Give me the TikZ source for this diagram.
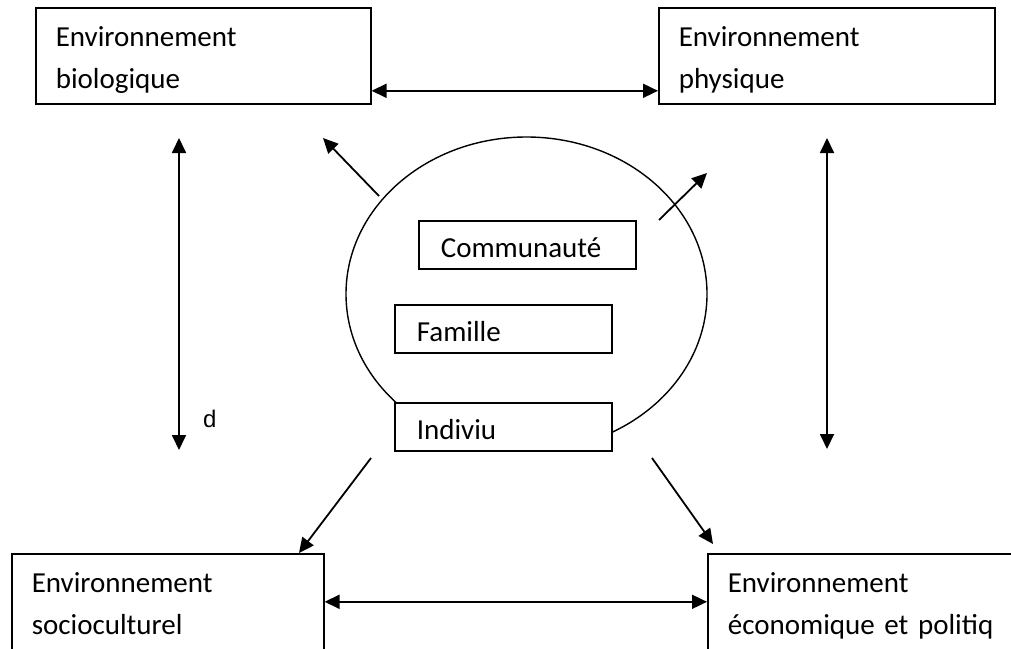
\documentclass[tikz,border=0pt]{standalone}
\usepackage{fontspec}
\setmainfont{Carlito}
\newfontfamily\arialfont{Liberation Sans}
\usetikzlibrary{arrows.meta,shapes.geometric}

\newcommand\twolines[2]{\rule{0pt}{30pt}#1\\#2\rule[-6pt]{0pt}{6pt}}

\begin{document}
\begin{tikzpicture}[x=1pt,y=-1pt,
    envbox/.style={draw, line width=1.6pt, anchor=north west, align=left,
      font=\fontsize{29}{42}\selectfont, inner xsep=20pt, inner ysep=0pt,
      minimum height=96pt},
    levelbox/.style={draw, fill=white, line width=1.6pt, anchor=north west,
      align=left, font=\fontsize{29}{35}\selectfont, inner xsep=22pt,
      inner ysep=0pt, text width=173pt, minimum height=48pt,
      text height=26pt, text depth=0pt},
    link/.style={line width=1.8pt, -{Triangle[length=15pt,width=14pt]}},
    biglink/.style={line width=1.8pt,
      {Triangle[length=15pt,width=14pt]}-{Triangle[length=15pt,width=14pt]}}]
  \useasboundingbox (0,0) rectangle (1011,648);
  \clip (0,0) rectangle (1011,648);

  % les quatre environnements
  \node[envbox, text width=295pt] (bio) at (35,7) {\twolines{Environnement}{biologique}};
  \node[envbox, text width=296pt] (phys) at (658,7) {\twolines{Environnement}{physique}};
  \node[envbox, text width=272pt] (socio) at (11,553) {\twolines{Environnement}{socioculturel}};
  \node[envbox, text width=295pt] (eco) at (707,553) {\twolines{Environnement}{économique et politiq}};

  % cercle et niveaux
  \node[draw, ellipse, line width=1.4pt, inner sep=0pt,
    minimum width=361pt, minimum height=314pt] (cercle) at (526.5,294) {};
  \node[levelbox] (commu) at (418,220) {Communauté};
  \node[levelbox] (famille) at (394,304) {Famille};
  \node[levelbox] (indiv) at (394,402) {Indiviu};

  % extremites libres
  \coordinate (gh) at (179,138);
  \coordinate (gb) at (179,450);
  \coordinate (dh) at (827,138);
  \coordinate (db) at (827,449);
  \coordinate (hg0) at (379,196);
  \coordinate (hg1) at (323,138);
  \coordinate (hd0) at (659,220);
  \coordinate (hd1) at (707,173);
  \coordinate (bg0) at (371,458);
  \coordinate (bd0) at (652,458);
  \coordinate (bd1) at (713,544);

  \node[font=\arialfont\fontsize{24}{28}\selectfont, anchor=base west,
    inner sep=0pt] (dlab) at (203,427) {d};

  \draw[biglink] ([yshift=-35pt]bio.east) -- ([yshift=-35pt]phys.west);
  \draw[biglink] (socio.east) -- (eco.west);
  \draw[biglink] (gh) -- (gb);
  \draw[biglink] (dh) -- (db);
  \draw[link] (hg0) -- (hg1);
  \draw[link] (hd0) -- (hd1);
  \draw[link] (bg0) -- ([xshift=288pt]socio.north west);
  \draw[link] (bd0) -- (bd1);
\end{tikzpicture}
\end{document}
